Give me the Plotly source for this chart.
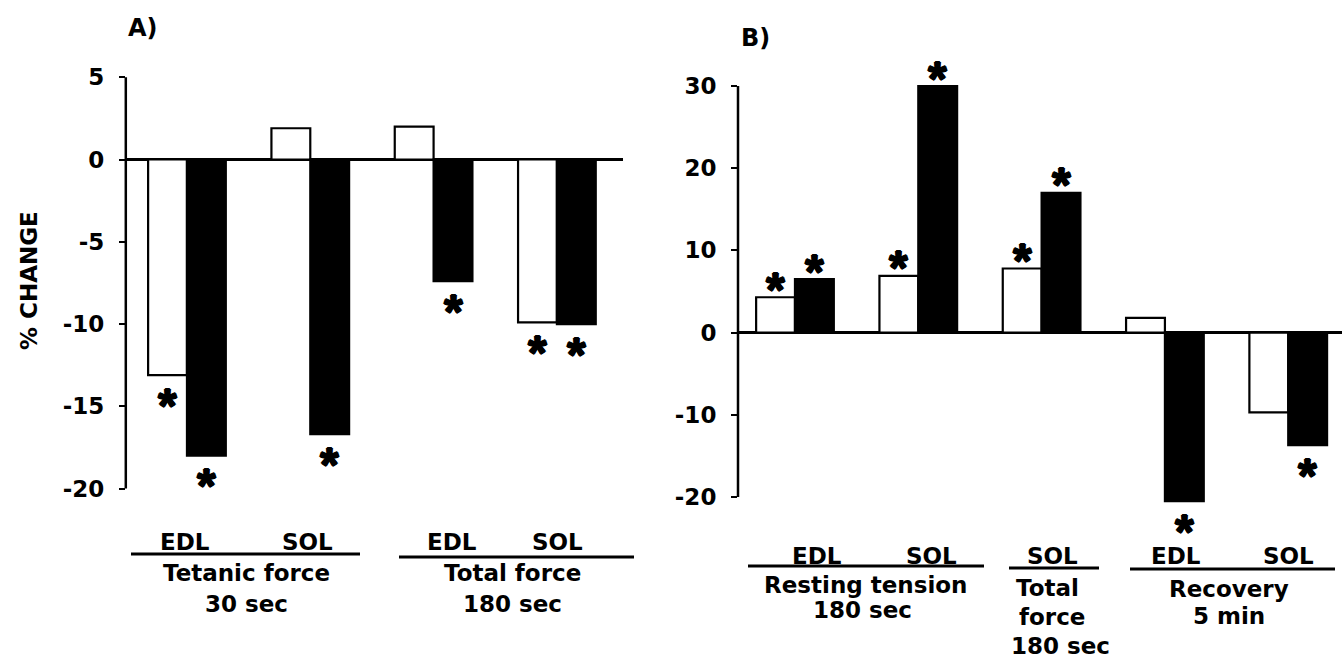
import plotly.graph_objects as go

W, H = 1342, 658

# ---- Panel A: force changes ----
a_categories = ["Tetanic EDL", "Tetanic SOL", "Total EDL", "Total SOL"]
a_control = [-13.1, 1.9, 2.0, -9.9]      # open bars
a_treated = [-18.0, -16.7, -7.4, -10.0]  # filled bars
a_control_sig = [True, False, False, True]
a_treated_sig = [True, True, True, True]
a_ticks = [5, 0, -5, -10, -15, -20]
a_muscles = ["EDL", "SOL", "EDL", "SOL"]
a_groups = [["Tetanic force", "30 sec"], ["Total force", "180 sec"]]

# ---- Panel B: tension / recovery changes ----
b_categories = ["Resting EDL", "Resting SOL", "Total SOL", "Recovery EDL", "Recovery SOL"]
b_control = [4.3, 6.9, 7.8, 1.8, -9.7]
b_treated = [6.5, 30.0, 17.0, -20.5, -13.7]
b_control_sig = [True, True, True, False, False]
b_treated_sig = [True, True, True, True, True]
b_ticks = [30, 20, 10, 0, -10, -20]
b_muscles = ["EDL", "SOL", "SOL", "EDL", "SOL"]
b_groups = [["Resting tension", "180 sec"], ["Total", "force", "180 sec"], ["Recovery", "5 min"]]

FONT = "DejaVu Sans"
STAR_FONT = "Liberation Sans"
# thin outline that thickens the asterisk strokes
STAR_SHADOW = "1px 0 0 black, -1px 0 0 black, 0 1px 0 black, 0 -1px 0 black"
BARGAP = 0.37


def px(x):
    return x / W


def py(y):
    return 1 - y / H


fig = go.Figure()

for cats, ctl, trt, xa, ya in [
    (a_categories, a_control, a_treated, "x", "y"),
    (b_categories, b_control, b_treated, "x2", "y2"),
]:
    fig.add_trace(go.Bar(x=cats, y=ctl, xaxis=xa, yaxis=ya, showlegend=False,
                         marker=dict(color="white", line=dict(color="black", width=2.2))))
    fig.add_trace(go.Bar(x=cats, y=trt, xaxis=xa, yaxis=ya, showlegend=False,
                         marker=dict(color="black", line=dict(color="black", width=2.2))))

annotations = []
shapes = []

# significance asterisks centred over each bar, just beyond its end
half = (1 - BARGAP) / 4
for ctl, trt, csig, tsig, xr, yr in [
    (a_control, a_treated, a_control_sig, a_treated_sig, "x", "y"),
    (b_control, b_treated, b_control_sig, b_treated_sig, "x2", "y2"),
]:
    for i in range(len(ctl)):
        for val, sig, dx in [(ctl[i], csig[i], -half), (trt[i], tsig[i], half)]:
            if not sig:
                continue
            annotations.append(dict(
                x=i + dx, y=val, xref=xr, yref=yr, text="*", showarrow=False,
                font=dict(size=48, color="black", family=STAR_FONT, weight="bold",
                          shadow=STAR_SHADOW),
                yanchor="middle", xanchor="center",
                yshift=8 if val > 0 else -30,
            ))

# muscle labels, group underlines and group captions
def label(text, x, y, size=23):
    annotations.append(dict(x=px(x), y=py(y), xref="paper", yref="paper", text=text,
                            showarrow=False, xanchor="center", yanchor="middle",
                            font=dict(size=size, color="black", family=FONT, weight="bold")))


def rule(x0, x1, y):
    shapes.append(dict(type="line", xref="paper", yref="paper", x0=px(x0), x1=px(x1),
                       y0=py(y), y1=py(y), line=dict(color="black", width=3)))


a_muscle_x = [185, 307, 452, 557]
for m, x in zip(a_muscles, a_muscle_x):
    label(m, x, 542)
rule(131, 360, 554)
rule(399, 634, 557)
for (l1, l2), x in zip(a_groups, [246, 512]):
    label(l1, x, 573)
    label(l2, x, 604)

b_muscle_x = [817, 931, 1052, 1176, 1288]
for m, x in zip(b_muscles, b_muscle_x):
    label(m, x, 556)
rule(748, 984, 566)
rule(1009, 1099, 568)
rule(1130, 1335, 569)
label(b_groups[0][0], 865, 585)
label(b_groups[0][1], 862, 610)
label(b_groups[1][0], 1047, 588)
label(b_groups[1][1], 1052, 617)
label(b_groups[1][2], 1060, 646)
label(b_groups[2][0], 1229, 589)
label(b_groups[2][1], 1229, 616)

# panel letters and y title
label("A)", 143, 28, size=24)
label("B)", 756, 38, size=24)
annotations.append(dict(x=px(29), y=py(281), xref="paper", yref="paper", text="% CHANGE",
                        textangle=-90, showarrow=False, xanchor="center", yanchor="middle",
                        font=dict(size=23, color="black", family=FONT, weight="bold")))

# vertical axis lines spanning the labelled tick range only
shapes.append(dict(type="line", xref="x domain", yref="y", x0=0, x1=0,
                   y0=min(a_ticks), y1=max(a_ticks), line=dict(color="black", width=2.5)))
shapes.append(dict(type="line", xref="x2 domain", yref="y2", x0=0, x1=0,
                   y0=min(b_ticks), y1=max(b_ticks), line=dict(color="black", width=2.5)))

xcommon = dict(type="category", showticklabels=False, ticks="", showline=False,
               showgrid=False, zeroline=False)
ycommon = dict(ticks="outside", ticklen=6, tickwidth=2, tickcolor="black",
               showgrid=False, showline=False, zeroline=True, zerolinecolor="black",
               zerolinewidth=2.5, ticklabelstandoff=10,
               tickfont=dict(size=23, color="black", family=FONT, weight="bold"))

fig.update_layout(
    width=W, height=H,
    margin=dict(l=0, r=0, t=0, b=0),
    paper_bgcolor="white", plot_bgcolor="white",
    barmode="group", bargap=BARGAP, bargroupgap=0,
    font=dict(family=FONT, color="black", weight="bold"),
    xaxis=dict(xcommon, domain=[px(125.8), px(623)], range=[-0.496, 3.536], anchor="y"),
    yaxis=dict(ycommon, domain=[py(505), py(60.8)], range=[-21, 6],
               tickvals=a_ticks, ticktext=[str(t) for t in a_ticks], anchor="x"),
    xaxis2=dict(xcommon, domain=[px(738), 1.0], range=[-0.462, 4.436], anchor="y2"),
    yaxis2=dict(ycommon, domain=[py(513.4), py(69.6)], range=[-22, 32],
                tickvals=b_ticks, ticktext=[str(t) for t in b_ticks], anchor="x2"),
    annotations=annotations,
    shapes=shapes,
)

fig.write_html("out.html")
